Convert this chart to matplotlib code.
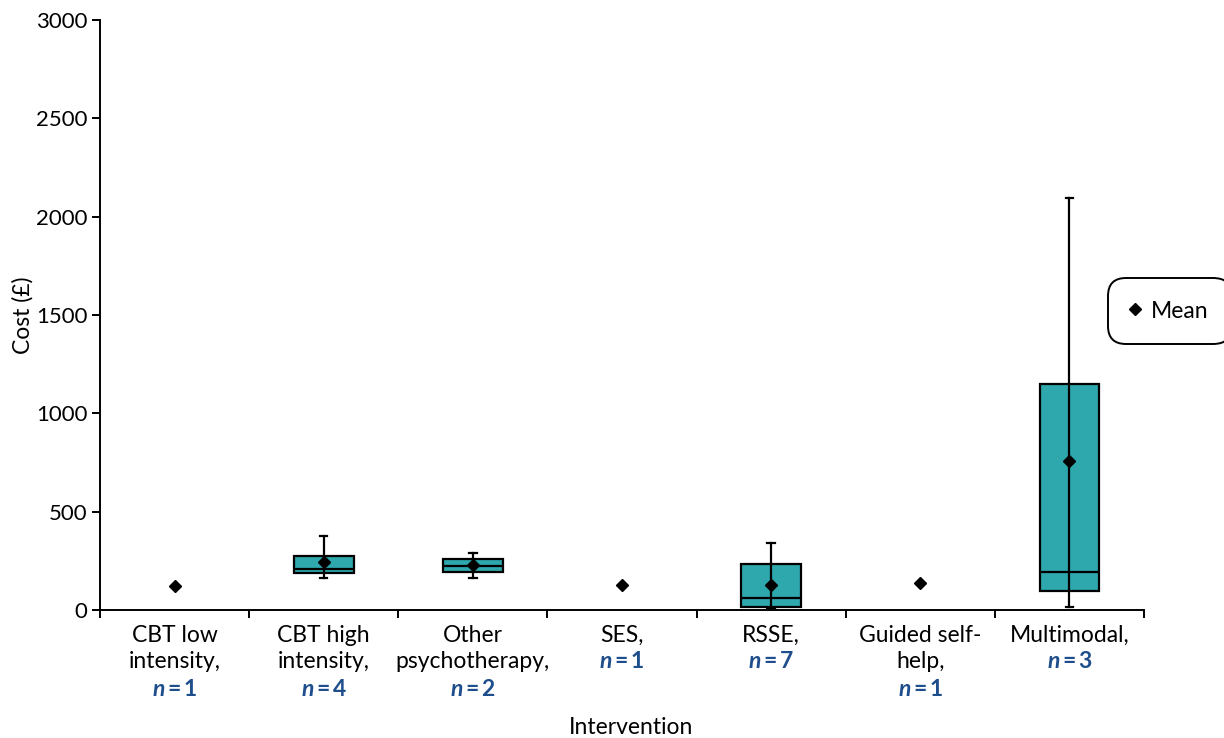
import matplotlib
matplotlib.use('Agg')
import matplotlib.pyplot as plt
import matplotlib.transforms as mtransforms

plt.rcParams['font.family'] = ['Lato', 'DejaVu Sans']
plt.rcParams['mathtext.fontset'] = 'custom'
plt.rcParams['mathtext.it'] = 'Lato:style=italic:weight=bold'
plt.rcParams['mathtext.rm'] = 'Lato:weight=bold'

# data
labels = [['CBT low', 'intensity,'], ['CBT high', 'intensity,'],
          ['Other', 'psychotherapy,'], ['SES,'], ['RSSE,'],
          ['Guided self-', 'help,'], ['Multimodal,']]
n_counts = [1, 4, 2, 1, 7, 1, 3]
means = [122, 242, 230, 127, 129, 137, 757]
q1 = [None, 190, 192, None, 14, None, 95]
med = [None, 208, 225, None, 63, None, 193]
q3 = [None, 276, 258, None, 234, None, 1149]
whislo = [None, 164, 164, None, 12, None, 14]
whishi = [None, 378, 291, None, 342, None, 2093]

teal = '#2ea7ad'
navy = '#1f4e8c'
fs = 16.5

fig = plt.figure(figsize=(12.24, 7.38), dpi=100)
ax = fig.add_axes([100 / 1224, 128 / 738, 1044 / 1224, 590 / 738])

stats = []
pos = []
for i in range(len(means)):
    if q1[i] is None:
        continue
    stats.append(dict(med=med[i], q1=q1[i], q3=q3[i], whislo=whislo[i],
                      whishi=whishi[i], mean=means[i], fliers=[]))
    pos.append(i + 1)

ax.bxp(stats, positions=pos, widths=0.4, patch_artist=True, showmeans=False,
       capwidths=0.05,
       boxprops=dict(facecolor=teal, edgecolor='black', linewidth=1.6),
       medianprops=dict(color='black', linewidth=1.6),
       whiskerprops=dict(color='black', linewidth=1.6),
       capprops=dict(color='black', linewidth=1.6))
# whisker line runs through the box
for p, s in zip(pos, stats):
    ax.vlines(p, s['q1'], s['q3'], color='black', linewidth=1.6, zorder=3)

xs = list(range(1, len(means) + 1))
ax.plot(xs, means, linestyle='none', marker='D', markersize=6.5,
        color='black', zorder=5, label='Mean')

ax.set_xlim(0.5, 7.5)
ax.set_ylim(0, 3000)
ax.set_yticks([0, 500, 1000, 1500, 2000, 2500, 3000])
ax.set_xticks([i + 0.5 for i in range(8)])
ax.set_xticklabels([])
ax.tick_params(axis='both', direction='out', length=6, width=1.4, labelsize=16)
ax.tick_params(axis='y', pad=3)
for s in ['top', 'right']:
    ax.spines[s].set_visible(False)
for s in ['left', 'bottom']:
    ax.spines[s].set_linewidth(1.4)

trans = mtransforms.blended_transform_factory(ax.transData, ax.transAxes)
for i, lines in enumerate(labels):
    for j, line in enumerate(lines):
        ax.annotate(line, xy=(i + 1, 0), xycoords=trans,
                    xytext=(0, -25 - 27 * j), textcoords='offset pixels',
                    ha='center', va='center', fontsize=fs)
    ax.annotate('$n$\u2009=\u2009' + str(n_counts[i]), xy=(i + 1, 0),
                xycoords=trans, xytext=(0, -25 - 27 * len(lines)),
                textcoords='offset pixels', ha='center', va='center',
                fontsize=fs, color=navy, fontweight='bold')

ax.set_ylabel('Cost (£)', fontsize=fs, labelpad=2)
fig.text(631 / 1224, 1 - 727 / 738, 'Intervention', ha='center', va='center',
         fontsize=fs)

leg = fig.legend(loc='center left', bbox_to_anchor=(1103 / 1224, 1 - 311 / 738),
                 fontsize=fs, frameon=True, fancybox=True, handletextpad=0.5,
                 borderpad=0.7, handlelength=0.4, markerscale=0.95)
frame = leg.get_frame()
frame.set_edgecolor('black')
frame.set_linewidth(1.4)
frame.set_alpha(None)
frame.set_boxstyle('round', pad=0.3, rounding_size=0.8)

fig.savefig('out.png', dpi=100)
